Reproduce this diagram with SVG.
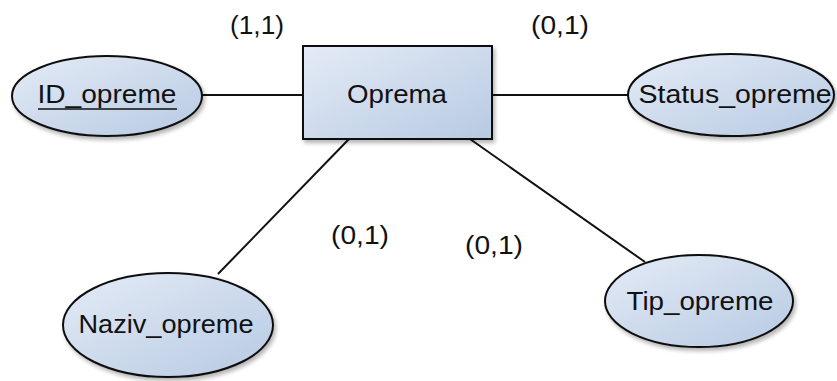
<svg xmlns="http://www.w3.org/2000/svg" width="837" height="381" viewBox="0 0 837 381">
<defs>
<linearGradient id="g" x1="0" y1="0" x2="1" y2="1">
<stop offset="0" stop-color="#e4ebf6"/>
<stop offset="1" stop-color="#b7cae3"/>
</linearGradient>
<filter id="sh" x="-10%" y="-10%" width="130%" height="130%">
<feGaussianBlur in="SourceAlpha" stdDeviation="2"/>
<feOffset dx="2" dy="3"/>
<feComponentTransfer><feFuncA type="linear" slope="0.3"/></feComponentTransfer>
<feMerge><feMergeNode/><feMergeNode in="SourceGraphic"/></feMerge>
</filter>
</defs>
<style>
.shape{fill:url(#g);stroke:#111;stroke-width:2;filter:url(#sh)}
.t{font-family:"Liberation Sans",Arial,sans-serif;font-size:25px;fill:#111;text-anchor:middle}
.c{stroke:#111;stroke-width:2;fill:none}
</style>
<rect width="837" height="381" fill="#fff"/>
<g id="connectors">
<line class="c" x1="202" y1="95" x2="303" y2="95"/>
<line class="c" x1="492" y1="95" x2="628" y2="95"/>
<line class="c" x1="349" y1="139" x2="218" y2="274"/>
<line class="c" x1="470" y1="139" x2="645" y2="262"/>
</g>
<g id="Oprema">
<rect class="shape" x="303" y="46" width="189" height="93"/>
<text class="t" x="397" y="103" textLength="100" lengthAdjust="spacingAndGlyphs">Oprema</text>
</g>
<g id="ID_opreme">
<ellipse class="shape" cx="107" cy="96" rx="95" ry="40"/>
<text class="t" x="107" y="103" textLength="139" lengthAdjust="spacingAndGlyphs">ID_opreme</text>
<line x1="38" y1="109" x2="177" y2="109" stroke="#111" stroke-width="1.5"/>
</g>
<g id="Status_opreme">
<ellipse class="shape" cx="731" cy="95" rx="103" ry="41"/>
<text class="t" x="735" y="103" textLength="193" lengthAdjust="spacingAndGlyphs">Status_opreme</text>
</g>
<g id="Naziv_opreme">
<ellipse class="shape" cx="168" cy="325" rx="105" ry="52"/>
<text class="t" x="166" y="333" textLength="175" lengthAdjust="spacingAndGlyphs">Naziv_opreme</text>
</g>
<g id="Tip_opreme">
<ellipse class="shape" cx="699" cy="301" rx="94" ry="46"/>
<text class="t" x="700" y="310" textLength="147" lengthAdjust="spacingAndGlyphs">Tip_opreme</text>
</g>
<g id="labels">
<text class="t" x="257" y="34" textLength="54" lengthAdjust="spacingAndGlyphs">(1,1)</text>
<text class="t" x="560" y="34" textLength="58" lengthAdjust="spacingAndGlyphs">(0,1)</text>
<text class="t" x="360" y="244" textLength="58" lengthAdjust="spacingAndGlyphs">(0,1)</text>
<text class="t" x="494" y="254" textLength="58" lengthAdjust="spacingAndGlyphs">(0,1)</text>
</g>
</svg>
